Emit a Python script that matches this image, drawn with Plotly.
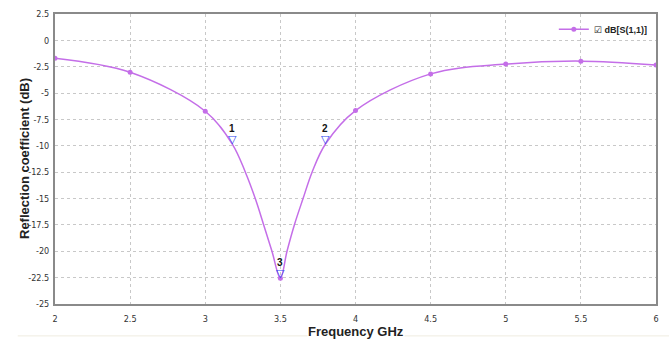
import plotly.graph_objects as go

# Curve samples (GHz, dB)
freq = [2.0, 2.5, 3.0, 3.18, 3.267, 3.333, 3.389, 3.444, 3.5, 3.544, 3.593, 3.651, 3.711, 3.8, 4.0, 4.5, 5.0, 5.5, 6.0]
s11 = [-1.69, -3.03, -6.72, -9.83, -12.5, -15.0, -17.5, -20.0, -22.57, -20.0, -17.5, -15.0, -12.5, -9.83, -6.66, -3.18, -2.25, -1.97, -2.34]

# Sweep points shown with dots
pt_freq = [2.0, 2.5, 3.0, 3.5, 4.0, 4.5, 5.0, 5.5, 6.0]
pt_s11 = [-1.69, -3.03, -6.72, -22.57, -6.66, -3.18, -2.25, -1.97, -2.34]

# Markers
mk_freq = [3.18, 3.8, 3.5]
mk_s11 = [-9.83, -9.83, -22.57]
mk_label = ["1", "2", "3"]

x_ticks = [2, 2.5, 3, 3.5, 4, 4.5, 5, 5.5, 6]
x_ticktext = ["2", "2.5", "3", "3.5", "4", "4.5", "5", "5.5", "6"]
y_ticks = [2.5, 0, -2.5, -5, -7.5, -10, -12.5, -15, -17.5, -20, -22.5, -25]
y_ticktext = ["2.5", "0", "-2.5", "-5", "-7.5", "-10", "-12.5", "-15", "-17.5", "-20", "-22.5", "-25"]

series_name = "☑ dB[S(1,1)]"
x_title = "Frequency GHz"
y_title = "Reflection coefficient (dB)"

col = "#c46ee8"
tickfont = dict(family="DejaVu Sans Condensed, Liberation Sans Narrow, Arial", size=9, color="#333333")
boldfont = "Liberation Sans, Arial, DejaVu Sans"

fig = go.Figure()
fig.add_trace(go.Scatter(x=freq, y=s11, mode="lines", line=dict(color=col, width=1.5, shape="spline", smoothing=1.0),
                         showlegend=False, hoverinfo="skip"))
fig.add_trace(go.Scatter(x=pt_freq, y=pt_s11, mode="markers", marker=dict(color=col, size=5),
                         showlegend=False))
fig.add_trace(go.Scatter(x=[None], y=[None], mode="lines+markers", name="<b>" + series_name + "</b>",
                         line=dict(color=col, width=1.5), marker=dict(color=col, size=5)))

annotations = []
for fx, fy, lab in zip(mk_freq, mk_s11, mk_label):
    annotations.append(dict(x=fx, y=fy, xref="x", yref="y", text="<b>▽</b>", showarrow=False,
                            font=dict(family="DejaVu Sans", size=11, color="#3048f0"),
                            yanchor="middle", xanchor="center", yshift=5))
    annotations.append(dict(x=fx, y=fy, xref="x", yref="y", text="<b>" + lab + "</b>", showarrow=False,
                            font=dict(family=boldfont, size=10, color="#111111"),
                            yanchor="bottom", xanchor="center", yshift=8))

annotations.append(dict(x=0.5, y=0, xref="paper", yref="paper", text="<b>" + x_title + "</b>", showarrow=False,
                        font=dict(family=boldfont, size=13, color="#222222"), xanchor="center", yanchor="middle",
                        yshift=-27, bgcolor="white", borderpad=0))
annotations.append(dict(x=0, y=0.5, xref="paper", yref="paper", text="<b>" + y_title + "</b>", showarrow=False,
                        font=dict(family=boldfont, size=13, color="#222222"), textangle=-90,
                        xanchor="center", yanchor="middle", xshift=-31))

fig.update_layout(
    width=669, height=342,
    margin=dict(l=55, r=13, t=9, b=38),
    paper_bgcolor="white", plot_bgcolor="white",
    showlegend=True,
    legend=dict(x=0.83, y=0.947, xanchor="left", yanchor="middle", bgcolor="rgba(0,0,0,0)",
                font=dict(family=boldfont, size=9, color="#222222"), itemwidth=30),
    annotations=annotations,
    shapes=[dict(type="line", xref="paper", yref="paper", x0=-0.062, x1=1.03, y0=-0.11, y1=-0.11,
                 line=dict(color="#efece0", width=1), layer="below")],
)
fig.update_xaxes(range=[2, 6], tickvals=x_ticks, ticktext=x_ticktext, tickfont=tickfont,
                 showgrid=True, gridcolor="#c8c8c8", griddash="dot", gridwidth=1,
                 showline=True, linecolor="#8a8a8a", linewidth=2, mirror=True,
                 ticks="outside", ticklen=5, tickcolor="rgba(0,0,0,0)", zeroline=False)
fig.update_yaxes(range=[-25, 2.5], tickvals=y_ticks, ticktext=y_ticktext, tickfont=tickfont,
                 showgrid=True, gridcolor="#c8c8c8", griddash="dot", gridwidth=1,
                 showline=True, linecolor="#8a8a8a", linewidth=2, mirror=True,
                 ticks="outside", ticklen=2, tickcolor="rgba(0,0,0,0)", zeroline=False)

fig.write_html("out.html")
